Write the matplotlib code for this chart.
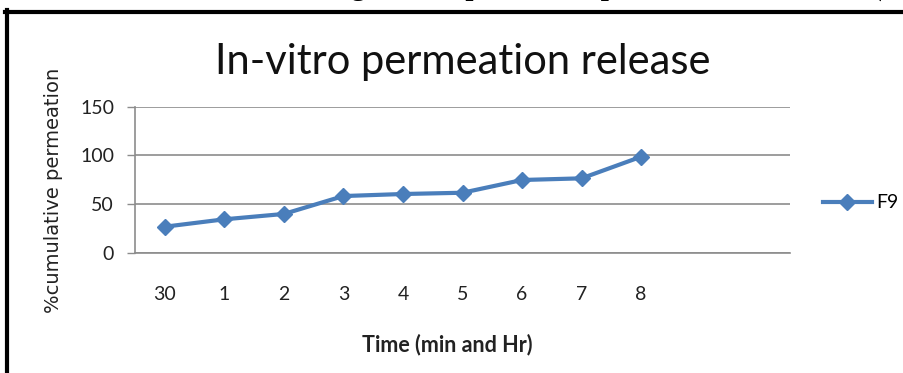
import matplotlib
matplotlib.use("Agg")
import matplotlib.pyplot as plt
from matplotlib.lines import Line2D

# categories along the x axis (Excel-style, two empty slots at the end)
time_labels = ["30", "1", "2", "3", "4", "5", "6", "7", "8", "", ""]
f9_release = [26.7, 34.3, 39.8, 58.2, 60.3, 61.6, 74.7, 76.4, 98.6]
y_ticks = [0, 50, 100, 150]

W, H = 904, 373
fig = plt.figure(figsize=(W / 100, H / 100), dpi=100)
ax = fig.add_axes([135 / W, 1 - 252.7 / H, 655 / W, 146 / H])

blue = "#4a7ebb"
grey = "#8c8c8c"
tick_font = "Lato"

x = list(range(len(f9_release)))
ax.plot(x, f9_release, color=blue, lw=3, marker="D", markersize=8,
        markeredgecolor=blue, label="F9", solid_joinstyle="round")

ax.set_xlim(-0.5, len(time_labels) - 0.5)
ax.set_ylim(0, 150)
ax.set_xticks(range(len(time_labels)))
ax.set_xticklabels(time_labels, family=tick_font, fontsize=14, color="#222222")
ax.set_yticks(y_ticks)
ax.set_yticklabels([str(v) for v in y_ticks], family=tick_font, fontsize=14, color="#222222")
ax.tick_params(axis="x", length=0, pad=24)
ax.tick_params(axis="y", length=6, width=1, color=grey, pad=9)
ax.grid(axis="y", color=grey, lw=1.2)
ax.set_axisbelow(True)
for s in ["top", "right"]:
    ax.spines[s].set_visible(False)
for s in ["left", "bottom"]:
    ax.spines[s].set_color(grey)
    ax.spines[s].set_linewidth(1.2)

fig.text(463 / W, 1 - 62 / H, "In-vitro permeation release", ha="center", va="center",
         family=tick_font, fontsize=30, color="#111111")
fig.text(54 / W, 1 - 190 / H, "%cumulative permeation", rotation=90, ha="center", va="center",
         family="DejaVu Sans", fontsize=14, color="#222222")
fig.text(447 / W, 1 - 345 / H, "Time (min and Hr)", ha="center", va="center",
         family=tick_font, fontsize=15.5, fontweight="bold", color="#222222")

ax.legend(loc="center left", bbox_to_anchor=(823 / W, 1 - 203 / H),
          bbox_transform=fig.transFigure, frameon=False, borderpad=0, borderaxespad=0,
          handlelength=2.5, handletextpad=0.25, prop={"family": tick_font, "size": 14})

# clipped caption line above the chart box, as in the source page
fig.text(882 / W, 1 + 5.5 / H, "In-vitro drug release profile of optimized formulation (",
         ha="right", va="baseline", family="Liberation Serif", fontweight="bold", fontsize=21)

# black frame of the pasted chart (left and top only visible)
fig.add_artist(Line2D([7 / W, 7 / W], [0, 1 - 10 / H], transform=fig.transFigure, color="black", lw=3))
fig.add_artist(Line2D([5 / W, 1], [1 - 12 / H, 1 - 12 / H], transform=fig.transFigure, color="black", lw=3))

fig.savefig("out.png", dpi=100)
